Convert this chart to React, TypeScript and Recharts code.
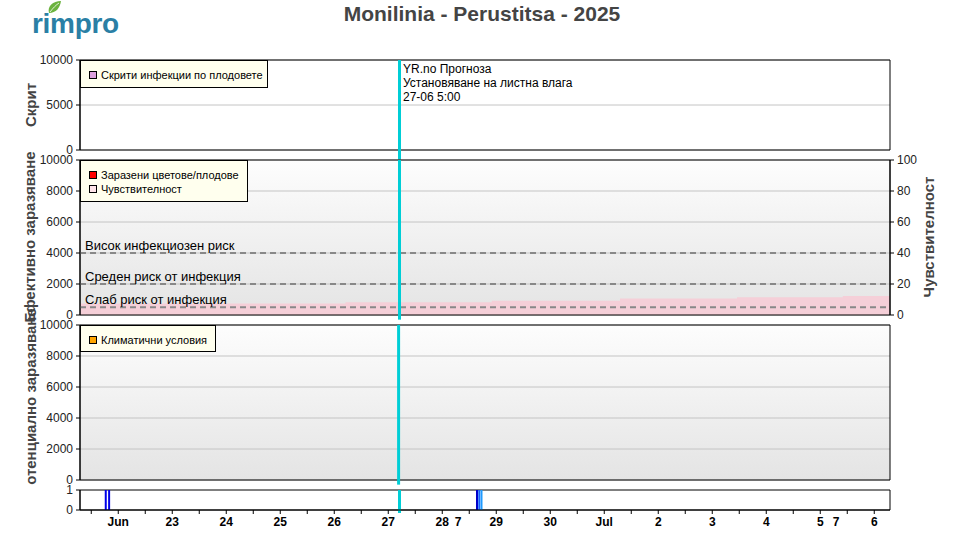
import {
  ComposedChart,
  Area,
  Bar,
  Cell,
  XAxis,
  YAxis,
  CartesianGrid,
  ReferenceLine,
  ReferenceArea,
} from 'recharts';

// time axis: hours counted from 21 Jun 2025 00:00
const X_START = 7;
const X_END = 367;
const NOW_HOUR = 149; // 27-06 5:00

const dayTicks = [24, 48, 72, 96, 120, 144, 168, 192, 216, 240, 264, 288, 312, 336, 360];
const dayLabels = ['Jun', '23', '24', '25', '26', '27', '28', '29', '30', 'Jul', '2', '3', '4', '5', '6'];
const halfDayTicks = [12, 36, 60, 84, 108, 132, 156, 180, 204, 228, 252, 276, 300, 324, 348];
const strayTicks = [175, 343];
const strayLabels = ['7', '7'];

// susceptibility (%), step changes
const sensHours = [7, 125, 190, 247, 299, 346, 367];
const sensValues = [7.5, 8.2, 9.2, 10.6, 11.4, 12.3, 12.3];

// leaf wetness events
const wetHours = [18.5, 20, 183.5, 184.5, 185.5];
const wetValues = [1, 1, 1, 1, 1];
const wetColors = ['#0000e8', '#0000e8', '#0000c8', '#1464ff', '#1e9bff'];

const riskLevels = [4000, 2000, 500];
const riskLabels = ['Висок инфекциозен риск', 'Среден риск от инфекция', 'Слаб риск от инфекция'];

const infTicks = [0, 2000, 4000, 6000, 8000, 10000];
const sensTicks = [0, 20, 40, 60, 80, 100];

const FONT = '"Liberation Sans", Arial, Helvetica, sans-serif';
const CYAN = '#00ced6';
const TITLE_COLOR = '#444';

const edgeData = [
  { t: X_START, v: 0 },
  { t: X_END, v: 0 },
];
const sensData = sensHours.map((t, i) => ({ t, sens: sensValues[i], inf: 0 }));
const wetData = wetHours.map((t, i) => ({ t, v: wetValues[i] }));

const allXTicks = [...halfDayTicks, ...dayTicks, ...strayTicks].sort((a, b) => a - b);

function labelFor(value: number) {
  const d = dayTicks.indexOf(value);
  if (d >= 0) return dayLabels[d];
  const s = strayTicks.indexOf(value);
  if (s >= 0) return strayLabels[s];
  return '';
}

function DayTick(props: any) {
  const { x, y, payload } = props;
  const stray = strayTicks.includes(payload.value);
  const label = labelFor(payload.value);
  return (
    <g>
      {!stray && <line x1={x} x2={x} y1={y - 4} y2={y} stroke="#000" strokeWidth={1} />}
      {label && (
        <text x={x} y={y + 12} textAnchor="middle" fontSize={12} fontWeight="bold" fill="#000">
          {label}
        </text>
      )}
    </g>
  );
}

const yTick = { fontSize: 12, fill: '#222' };

function Legend({ top, height, width, items }: { top: number; height: number; width: number; items: { color: string; label: string }[] }) {
  return (
    <div
      style={{
        position: 'absolute',
        left: 80,
        top,
        width,
        height,
        boxSizing: 'border-box',
        background: '#ffffee',
        border: '1px solid #000',
        fontSize: 11,
        color: '#000',
      }}
    >
      {items.map((it, i) => (
        <div key={it.label} style={{ position: 'absolute', left: 8, top: 7 + i * 14, display: 'flex', alignItems: 'center', whiteSpace: 'nowrap' }}>
          <span style={{ display: 'inline-block', width: 6, height: 6, border: '1px solid #000', background: it.color, marginRight: 4 }} />
          <span style={{ lineHeight: '14px' }}>{it.label}</span>
        </div>
      ))}
    </div>
  );
}

function Border() {
  return <ReferenceArea x1={X_START} x2={X_END} y1={0} y2={10000} fill="none" stroke="#000" strokeWidth={1} fillOpacity={0} />;
}

export default function App() {
  const full = { position: 'absolute' as const, left: 0, top: 0 };
  return (
    <div style={{ position: 'absolute', left: 0, top: 0, width: 960, height: 535, background: '#fff', fontFamily: FONT, overflow: 'hidden' }}>
      {/* titles, logo */}
      <svg width={960} height={535} style={full}>
        <defs>
          <clipPath id="clipPot">
            <rect x={0} y={300} width={80} height={185} />
          </clipPath>
        </defs>
        <path d="M49 13 C47 6 53 1 61 1 C60 8 56 13 49 13 Z" fill="#6cb33f" />
        <path d="M50 12 C53 8 56 5 59 3" stroke="#fff" strokeWidth={0.8} fill="none" />
        <text x={32} y={33} fontSize={28} fontWeight="bold" fill="#2a7fa5" fontFamily={FONT} letterSpacing={-0.3}>
          rimpro
        </text>
        <text x={482} y={21} textAnchor="middle" fontSize={21} fontWeight="bold" fill={TITLE_COLOR}>
          Monilinia - Perustitsa - 2025
        </text>
        <text transform="translate(36,105) rotate(-90)" textAnchor="middle" fontSize={15} fontWeight="bold" fill={TITLE_COLOR}>
          Скрит
        </text>
        <text transform="translate(35,237) rotate(-90)" textAnchor="middle" fontSize={15} fontWeight="bold" fill={TITLE_COLOR}>
          Ефективно заразяване
        </text>
        <g clipPath="url(#clipPot)">
          <text transform="translate(36,402) rotate(-90)" textAnchor="middle" fontSize={15} fontWeight="bold" fill={TITLE_COLOR}>
            Потенциално заразяване
          </text>
        </g>
        <text transform="translate(934,237) rotate(-90)" textAnchor="middle" fontSize={15} fontWeight="bold" fill={TITLE_COLOR}>
          Чувствителност
        </text>
        <text x={403} y={73} fontSize={12} fill="#000">YR.no Прогноза</text>
        <text x={403} y={87} fontSize={12} fill="#000">Установяване на листна влага</text>
        <text x={403} y={101} fontSize={12} fill="#000">27-06 5:00</text>
      </svg>

      {/* panel 1: latent infections */}
      <div style={full}>
        <ComposedChart width={960} height={535} data={edgeData} margin={{ top: 60, right: 70, bottom: 385, left: 0 }}>
          <CartesianGrid vertical={false} stroke="#c4c4c4" />
          <XAxis type="number" dataKey="t" domain={[X_START, X_END]} allowDataOverflow hide />
          <YAxis width={80} domain={[0, 10000]} ticks={[0, 5000, 10000]} interval={0} tick={yTick} tickSize={4} tickMargin={3} stroke="#000" />
          <Area dataKey="v" fill="#dda0dd" stroke="none" isAnimationActive={false} />
          <Border />
          <ReferenceLine segment={[{ x: NOW_HOUR, y: -1100 }, { x: NOW_HOUR, y: 10000 }]} stroke={CYAN} strokeWidth={3} ifOverflow="visible" />
        </ComposedChart>
      </div>

      {/* panel 2: effective infection + susceptibility */}
      <div style={full}>
        <ComposedChart width={960} height={535} data={sensData} margin={{ top: 160, right: 30, bottom: 220, left: 0 }}>
          <defs>
            <linearGradient id="bg2" x1="0" y1="0" x2="0" y2="1">
              <stop offset="0%" stopColor="#fdfdfd" />
              <stop offset="100%" stopColor="#e4e4e4" />
            </linearGradient>
          </defs>
          <CartesianGrid vertical={false} stroke="#c4c4c4" fill="url(#bg2)" fillOpacity={1} />
          <XAxis type="number" dataKey="t" domain={[X_START, X_END]} allowDataOverflow hide />
          <YAxis width={80} domain={[0, 10000]} ticks={infTicks} interval={0} tick={yTick} tickSize={4} tickMargin={3} stroke="#000" />
          <YAxis yAxisId="right" orientation="right" width={40} domain={[0, 100]} ticks={sensTicks} interval={0} tick={yTick} tickSize={4} tickMargin={3} stroke="#000" />
          <Area yAxisId="right" type="stepAfter" dataKey="sens" fill="#f5cfd8" fillOpacity={1} stroke="none" isAnimationActive={false} />
          <Area dataKey="inf" fill="#ff0000" stroke="none" isAnimationActive={false} />
          {riskLevels.map((lvl, i) => (
            <ReferenceLine
              key={lvl}
              y={lvl}
              stroke="#888"
              strokeWidth={2.2}
              strokeDasharray="6 4"
              label={{ value: riskLabels[i], position: 'insideBottomLeft', offset: 3, dx: 2, fontSize: 13, fill: '#000' }}
            />
          ))}
          <Border />
          <ReferenceLine segment={[{ x: NOW_HOUR, y: -300 }, { x: NOW_HOUR, y: 10000 }]} stroke={CYAN} strokeWidth={3} ifOverflow="visible" />
        </ComposedChart>
      </div>

      {/* panel 3: potential infection */}
      <div style={full}>
        <ComposedChart width={960} height={535} data={edgeData} margin={{ top: 325, right: 70, bottom: 55, left: 0 }}>
          <defs>
            <linearGradient id="bg3" x1="0" y1="0" x2="0" y2="1">
              <stop offset="0%" stopColor="#fdfdfd" />
              <stop offset="100%" stopColor="#e4e4e4" />
            </linearGradient>
          </defs>
          <CartesianGrid vertical={false} stroke="#c4c4c4" fill="url(#bg3)" fillOpacity={1} />
          <XAxis type="number" dataKey="t" domain={[X_START, X_END]} allowDataOverflow hide />
          <YAxis width={80} domain={[0, 10000]} ticks={infTicks} interval={0} tick={yTick} tickSize={4} tickMargin={3} stroke="#000" />
          <Area dataKey="v" fill="#ffa500" stroke="none" isAnimationActive={false} />
          <Border />
          <ReferenceLine segment={[{ x: NOW_HOUR - 0.4, y: -300 }, { x: NOW_HOUR - 0.4, y: 10000 }]} stroke={CYAN} strokeWidth={3} ifOverflow="visible" />
        </ComposedChart>
      </div>

      {/* panel 4: leaf wetness */}
      <div style={full}>
        <ComposedChart width={960} height={535} data={wetData} margin={{ top: 490, right: 70, bottom: 0, left: 0 }}>
          <XAxis
            type="number"
            dataKey="t"
            domain={[X_START, X_END]}
            allowDataOverflow
            ticks={allXTicks}
            interval={0}
            height={25}
            tickLine={false}
            tickSize={4}
            tickMargin={0}
            tick={<DayTick />}
            stroke="#000"
          />
          <YAxis width={80} domain={[0, 1]} ticks={[0, 1]} interval={0} tick={yTick} tickSize={4} tickMargin={3} stroke="#000" />
          <Bar dataKey="v" barSize={2} isAnimationActive={false}>
            {wetData.map((d, i) => (
              <Cell key={d.t} fill={wetColors[i]} />
            ))}
          </Bar>
          <ReferenceArea x1={X_START} x2={X_END} y1={0} y2={1} fill="none" stroke="#000" strokeWidth={1} fillOpacity={0} />
          <ReferenceLine segment={[{ x: NOW_HOUR, y: -0.15 }, { x: NOW_HOUR, y: 1 }]} stroke={CYAN} strokeWidth={3} ifOverflow="visible" />
        </ComposedChart>
      </div>

      <Legend top={60} width={188} height={28} items={[{ color: '#dda0dd', label: 'Скрити инфекции по плодовете' }]} />
      <Legend
        top={160}
        width={168}
        height={42}
        items={[
          { color: '#ff0000', label: 'Заразени цветове/плодове' },
          { color: '#ffe4e8', label: 'Чувствителност' },
        ]}
      />
      <Legend top={325} width={136} height={27} items={[{ color: '#ffa500', label: 'Климатични условия' }]} />
    </div>
  );
}
